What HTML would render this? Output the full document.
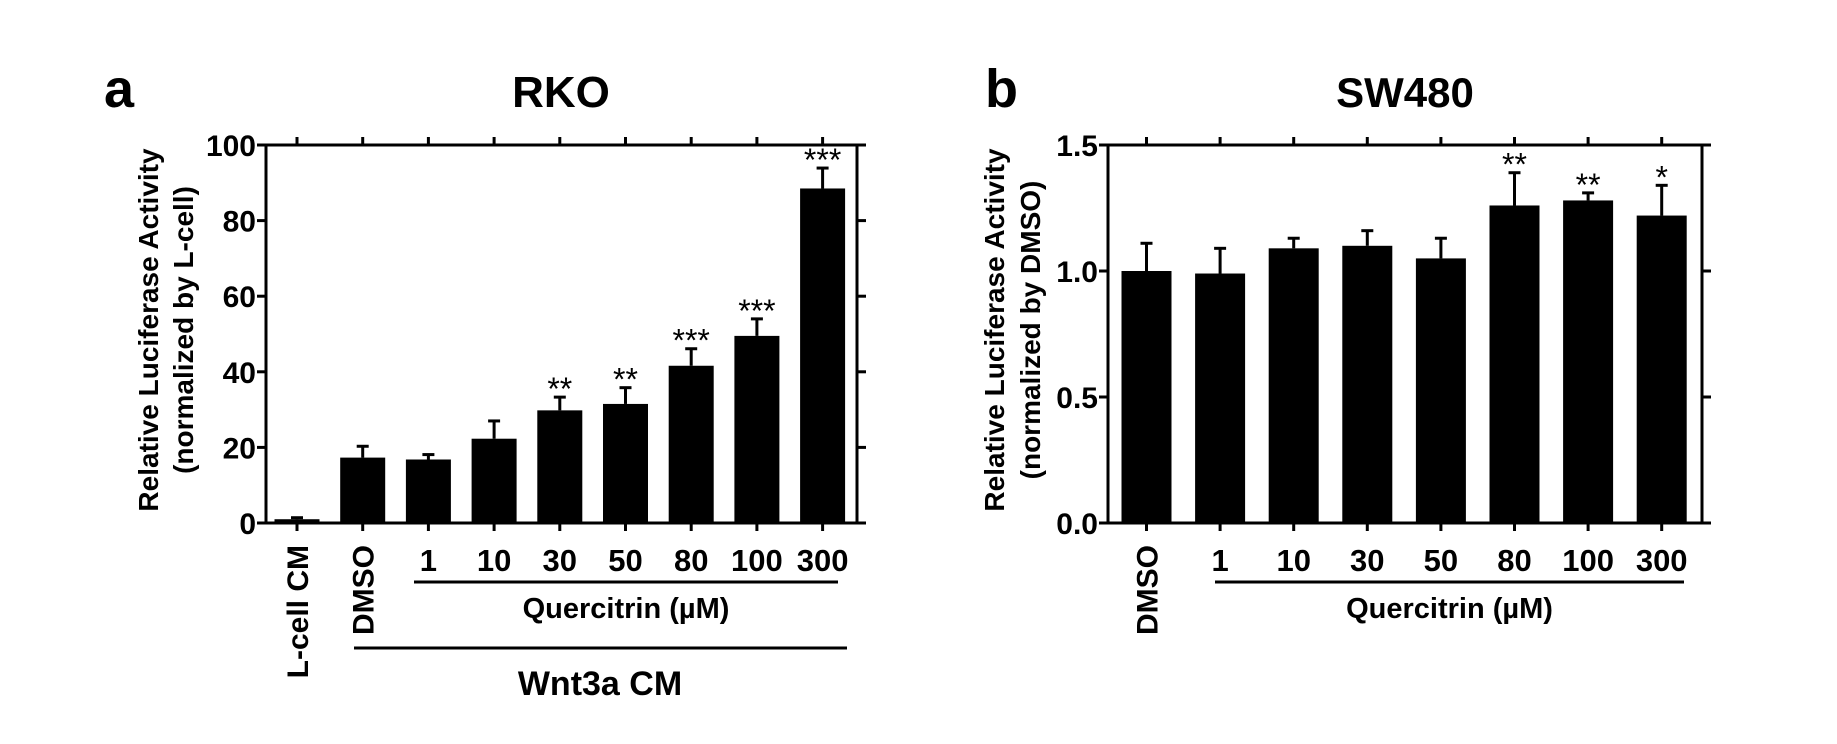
<!DOCTYPE html>
<html><head><meta charset="utf-8"><style>
html,body{margin:0;padding:0;background:#fff;}
svg{display:block;}
text{font-family:"Liberation Sans",Arial,sans-serif;fill:#000;}
</style></head><body>
<svg id="fig" width="1837" height="744" viewBox="0 0 1837 744" xmlns="http://www.w3.org/2000/svg">
<text x="104" y="107" font-size="54" font-weight="bold">a</text>
<text x="561" y="107" font-size="44" font-weight="bold" text-anchor="middle">RKO</text>
<text x="985" y="107" font-size="54" font-weight="bold">b</text>
<text x="1405" y="107" font-size="42" font-weight="bold" text-anchor="middle">SW480</text>
<g id="pa"></g>
<g id="pb"></g>
</svg>
<script>
// Panel a (RKO)
const aCategories = ["L-cell CM","DMSO","1","10","30","50","80","100","300"];
const aValues = [1.0, 17.3, 16.8, 22.3, 29.8, 31.5, 41.6, 49.5, 88.5];
const aErrors = [0.4, 3.0, 1.3, 4.7, 3.5, 4.3, 4.5, 4.5, 5.4];
const aStars = ["","","","","**","**","***","***","***"];
const aTicks = [0,20,40,60,80,100];
const aTickLabels = ["0","20","40","60","80","100"];
// Panel b (SW480)
const bCategories = ["DMSO","1","10","30","50","80","100","300"];
const bValues = [1.00, 0.99, 1.09, 1.10, 1.05, 1.26, 1.28, 1.22];
const bErrors = [0.11, 0.10, 0.04, 0.06, 0.08, 0.13, 0.03, 0.12];
const bStars = ["","","","","","**","**","*"];
const bTicks = [0,0.5,1.0,1.5];
const bTickLabels = ["0.0","0.5","1.0","1.5"];

const NS="http://www.w3.org/2000/svg";
function mk(parent,tag,attrs,txt){const e=document.createElementNS(NS,tag);for(const k in attrs)e.setAttribute(k,attrs[k]);if(txt!==undefined)e.textContent=txt;parent.appendChild(e);return e;}

function drawPanel(g,cfg){
  const {cats,vals,errs,stars,ticks,tlabels,ymax,x0,x1,first,step,bw,rot,quer,wnt,ytitle1,ytitle2,tx1,tx2,ycenter}=cfg;
  const yTop=145,yBot=523;
  const ys=v=>yBot-(v/ymax)*(yBot-yTop);
  const xs=i=>first+i*step;
  cats.forEach((c,i)=>{
    const x=xs(i),y=ys(vals[i]);
    const r=mk(g,'rect',{x:x-bw/2,y:y,width:bw,height:yBot-y,fill:'#000'});
    
    
    const ye=ys(vals[i]+errs[i]);
    const l=mk(g,'line',{x1:x,x2:x,y1:y,y2:ye,stroke:'#000','stroke-width':3});
    
    
    const cap=mk(g,'line',{x1:x-6,x2:x+6,y1:ye,y2:ye,stroke:'#000','stroke-width':3});
    
    
    if(stars[i]){
      const s=mk(g,'text',{x:x,y:ye+3,'font-size':32,'text-anchor':'middle'},stars[i]);
      
      
    }
    mk(g,'line',{x1:x,x2:x,y1:yBot,y2:yBot+8,stroke:'#000','stroke-width':3});
    mk(g,'line',{x1:x,x2:x,y1:yTop,y2:yTop-8,stroke:'#000','stroke-width':3});
    if(rot.includes(c)){
      const t=mk(g,'text',{transform:`translate(${x+11},545) rotate(-90)`,'font-size':30,'font-weight':'bold','text-anchor':'end'},c);
      
      
    } else {
      const t=mk(g,'text',{x:x,y:571,'font-size':31,'font-weight':'bold','text-anchor':'middle'},c);
      
      
    }
  });
  const ax=mk(g,'path',{d:`M${x0},${yTop} L${x0},${yBot} L${x1},${yBot} M${x0-9},${yTop} L${x1},${yTop} L${x1},${yBot}`,fill:'none',stroke:'#000','stroke-width':3});
  
  
  ticks.forEach((v,i)=>{
    const y=ys(v);
    mk(g,'line',{x1:x0-9,x2:x0,y1:y,y2:y,stroke:'#000','stroke-width':3});
    mk(g,'line',{x1:x1,x2:x1+9,y1:y,y2:y,stroke:'#000','stroke-width':3});
    const t=mk(g,'text',{x:x0-10,y:y+11,'font-size':30,'font-weight':'bold','text-anchor':'end'},tlabels[i]);
    
    
  });
  const t1=mk(g,'text',{transform:`translate(${tx1},${ycenter}) rotate(-90)`,'font-size':28,'font-weight':'bold','text-anchor':'middle'},ytitle1);
  
  
  const t2=mk(g,'text',{transform:`translate(${tx2},${ycenter}) rotate(-90)`,'font-size':28,'font-weight':'bold','text-anchor':'middle'},ytitle2);
  
  
  const q=mk(g,'line',{x1:quer[0],x2:quer[1],y1:582,y2:582,stroke:'#000','stroke-width':3});
  
  
  const qt=mk(g,'text',{x:(quer[0]+quer[1])/2,y:618,'font-size':29,'font-weight':'bold','text-anchor':'middle'},'Quercitrin (\u00b5M)');
  
  
  if(wnt){
    const w=mk(g,'line',{x1:wnt[0],x2:wnt[1],y1:648,y2:648,stroke:'#000','stroke-width':3});
    
    
    const wt=mk(g,'text',{x:600,y:695,'font-size':34,'font-weight':'bold','text-anchor':'middle'},'Wnt3a CM');
    
    
  }
}
drawPanel(document.getElementById('pa'),{cats:aCategories,vals:aValues,errs:aErrors,stars:aStars,ticks:aTicks,tlabels:aTickLabels,ymax:100,
  x0:266,x1:857,first:297,step:65.7,bw:45,rot:["L-cell CM","DMSO"],quer:[414,838],wnt:[354,847],
  ytitle1:"Relative Luciferase Activity",ytitle2:"(normalized by L-cell)",tx1:158,tx2:193,ycenter:330});
drawPanel(document.getElementById('pb'),{cats:bCategories,vals:bValues,errs:bErrors,stars:bStars,ticks:bTicks,tlabels:bTickLabels,ymax:1.5,
  x0:1108,x1:1702,first:1146.5,step:73.6,bw:50,rot:["DMSO"],quer:[1215,1684],wnt:null,
  ytitle1:"Relative Luciferase Activity",ytitle2:"(normalized by DMSO)",tx1:1004,tx2:1040,ycenter:330});
</script>
</body></html>
